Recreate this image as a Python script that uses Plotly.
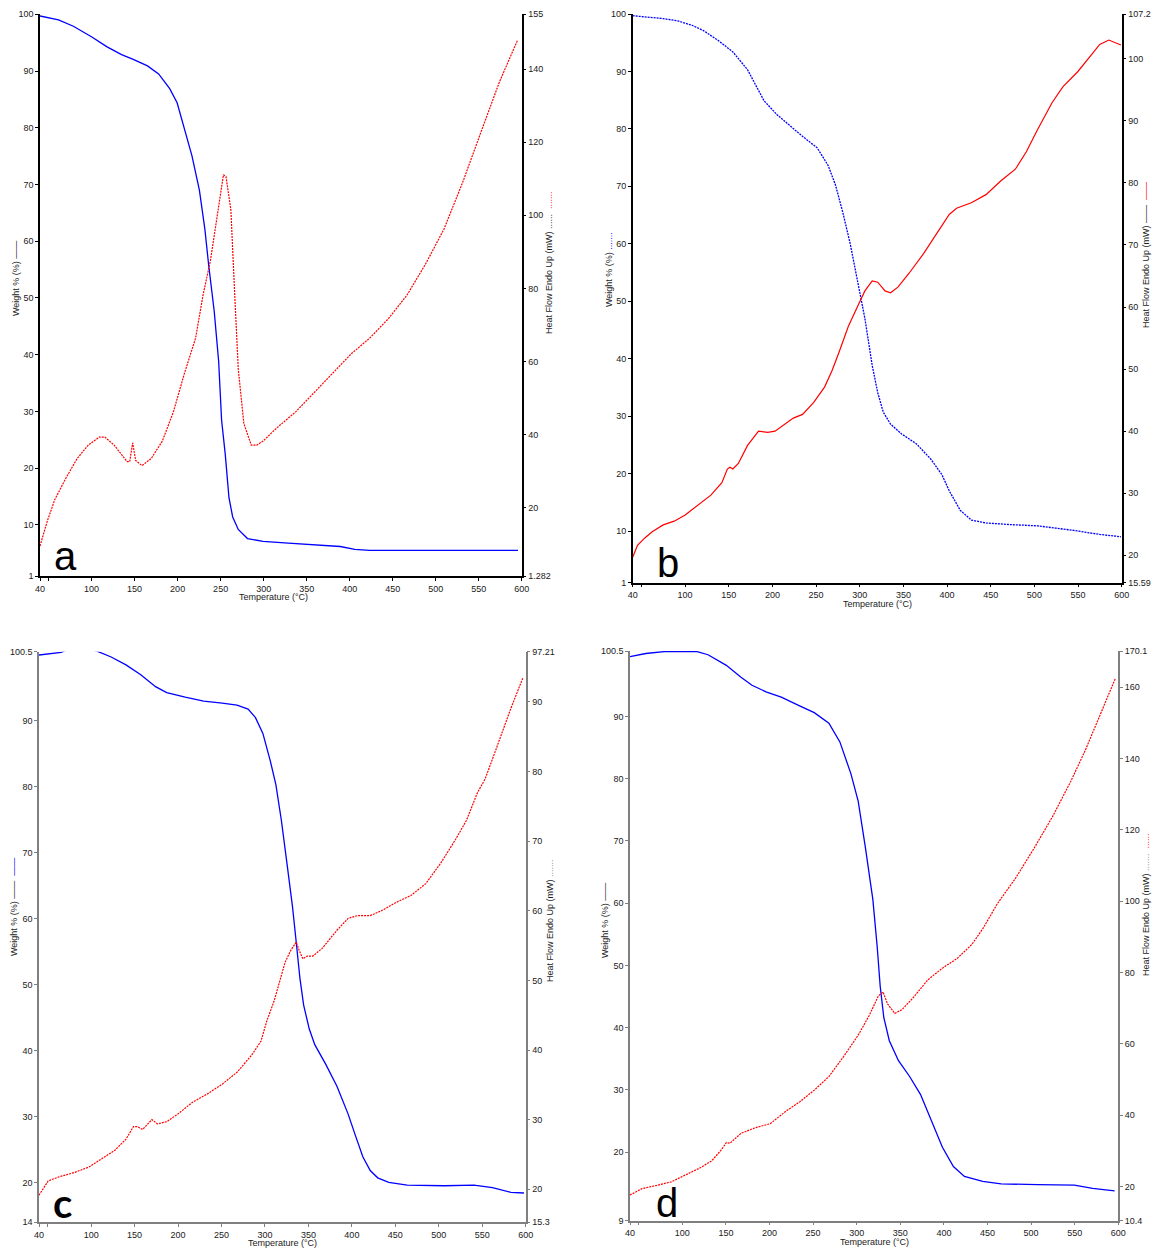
import plotly.graph_objects as go

W, H = 1153, 1248
OFF = 0  # body margin removed by post_script below

# ---------------- Panel a ----------------
a_wt_T = [40, 61.5, 78.8, 100.3, 117.5, 134.8, 147.7, 165, 177.9, 190.8, 199.4, 208, 216.6, 225.3,
          231.7, 236, 242.5, 247.7, 251.1, 255.4, 259.7, 264, 270.5, 281.2, 299.3, 328.6, 358.8,
          389, 406, 423.4, 595.7]
a_wt = [99.7, 99.0, 97.9, 96.0, 94.3, 92.9, 92.1, 90.9, 89.5, 86.9, 84.4, 79.9, 75.1, 69.0,
        62.1, 55.9, 47.7, 38.8, 28.5, 22.4, 14.8, 11.4, 9.2, 7.6, 7.1, 6.8, 6.5,
        6.2, 5.7, 5.5, 5.5]
a_hf_T = [40, 48.6, 57.2, 70.2, 83.1, 96, 108.9, 115.4, 126.2, 141.2, 144.3, 147.7, 151.2, 158.5,
          169.2, 182.2, 195.1, 208, 220.9, 229.5, 238.2, 246.8, 253.3, 256.3, 261.9, 266.2,
          270.5, 277, 285.6, 292, 299.3, 315.7, 337.2, 358.8, 380.3, 401.9, 423.4, 445, 466.5,
          488.1, 509.6, 531.2, 552.7, 574.3, 595]
a_hf = [9.5, 16.4, 22.2, 28.1, 33.4, 37.1, 39.3, 39.3, 37.1, 32.6, 32.6, 37.7, 32.9, 31.5,
        33.4, 38.2, 46.2, 56.8, 66.4, 78.1, 87.7, 101.5, 111.1, 110.5, 101.5, 79.2,
        57.9, 43.0, 37.1, 37.1, 38.2, 41.9, 46.2, 51.5, 56.8, 62.1, 66.4, 71.7, 78.1,
        86.6, 96.2, 108.9, 122.8, 136.6, 147.8]

# ---------------- Panel b ----------------
b_wt_T = [40, 53.9, 74.9, 91.7, 108.5, 121.1, 137.9, 154.7, 171.5, 179.9, 190.4, 205.1, 217.7,
          234.5, 251.3, 263.9, 272.3, 280.7, 289.1, 297.5, 305.9, 314.3, 320.6, 326.9, 335.3,
          347.9, 364.7, 381.5, 394.1, 402.5, 415.1, 427.8, 444.6, 474, 503.4, 524.4, 545.4,
          574.8, 599.1]
b_wt = [99.7, 99.5, 99.2, 98.8, 98.0, 97.1, 95.4, 93.4, 90.3, 87.9, 84.9, 82.5, 80.8,
        78.7, 76.7, 73.6, 70.2, 65.4, 60.0, 53.2, 47.0, 38.8, 34.1, 30.7, 28.6,
        26.9, 25.2, 22.5, 19.8, 17.0, 13.6, 11.9, 11.4, 11.1, 10.9, 10.5, 10.1,
        9.4, 9.0]
b_hf_T = [40, 45.5, 53.9, 62.3, 74.9, 87.5, 100.1, 112.7, 129.5, 142.1, 148.4, 151.3, 154.7,
          161, 171.5, 184.1, 194.6, 203, 213.5, 224, 234.5, 247.1, 259.7, 268.1, 276.5, 287,
          297.5, 305.9, 314.3, 320.6, 329, 335.3, 343.7, 356.3, 373.1, 389.9, 402.5, 410.9,
          427.8, 444.6, 461.4, 478.2, 490.8, 503.4, 520.2, 532.8, 549.6, 566.4, 574.8, 585.3,
          593.7, 599.1]
b_hf = [19.7, 21.6, 22.8, 23.8, 24.9, 25.5, 26.5, 27.9, 29.7, 31.7, 33.9, 34.2, 33.9,
        34.8, 37.7, 40.0, 39.8, 40.0, 41.1, 42.1, 42.7, 44.6, 47.1, 49.7, 52.8, 56.9,
        60.1, 62.6, 64.2, 64.0, 62.6, 62.3, 63.2, 65.4, 68.6, 72.1, 74.9, 75.9,
        76.8, 78.1, 80.3, 82.2, 85.0, 88.5, 92.9, 95.5, 97.9, 100.8, 102.3, 103.0,
        102.5, 102.2]

# ---------------- Panel c ----------------
c_wt_T = [40, 50.6, 65.5, 70, 80, 90, 100, 108.1, 123, 140.1, 157.1, 174.1, 186.9, 208.2,
          229.5, 250.8, 267.8, 280.6, 289.1, 297.6, 306.2, 312.6, 318.9, 325.3, 331.7, 336,
          340.2, 344.5, 350.9, 357.3, 370, 382.8, 395.6, 404.1, 412.6, 421.1, 429.7, 442.4,
          463.7, 506.3, 540.4, 561.7, 583, 598]
c_wt = [100.0, 100.2, 100.4, 100.65, 100.9, 100.95, 100.85, 100.5, 99.7, 98.5, 97.0, 95.2,
        94.3, 93.6, 93.0, 92.7, 92.4, 91.8, 90.5, 88.1, 83.9, 80.3, 74.9, 68.4, 61.8, 56.4,
        51.0, 46.9, 43.3, 40.9, 37.9, 34.6, 30.4, 27.1, 23.9, 21.8, 20.7, 20.0,
        19.6, 19.5, 19.6, 19.2, 18.5, 18.4]
c_hf_T = [40, 50.6, 63.4, 80.5, 97.5, 114.5, 127.3, 140.1, 148.6, 152.9, 159.2, 169.9, 176.3,
          186.9, 199.7, 216.7, 233.8, 250.8, 267.8, 284.9, 295.5, 301.9, 310.4, 316.8, 323.2,
          329.6, 336, 339.4, 343.6, 348.7, 355.1, 365.8, 382.8, 395.6, 406.2, 421.1, 433.9,
          450.9, 468, 485, 502, 519.1, 531.9, 544.6, 553.2, 565.9, 583, 596.6]
c_hf = [19.15, 21.2, 21.8, 22.4, 23.2, 24.6, 25.6, 27.2, 29.0, 29.0, 28.6, 30.0, 29.4,
        29.7, 30.8, 32.5, 33.7, 35.1, 36.8, 39.3, 41.3, 44.1, 47.0, 49.8, 52.6,
        54.3, 55.5, 54.3, 53.1, 53.5, 53.5, 54.6, 57.2, 58.9, 59.3, 59.3, 60.0,
        61.2, 62.2, 63.9, 66.8, 70.2, 73.0, 77.0, 78.9, 83.2, 89.1, 93.4]

# ---------------- Panel d ----------------
d_wt_T = [40, 58.1, 79.1, 95.9, 116.9, 129.5, 150.5, 167.3, 179.9, 196.7, 213.5, 234.5, 251.3,
          268.1, 280.7, 293.3, 301.7, 310.1, 318.5, 323.5, 326.9, 331.1, 337.4, 347.9, 360.5,
          373.1, 385.7, 398.3, 410.9, 423.5, 444.5, 465.6, 507.6, 549.6, 570.6, 595.8]
d_wt = [99.6, 100.1, 100.4, 100.45, 100.4, 99.9, 98.2, 96.3, 95.0, 93.9, 93.1, 91.7, 90.6,
        88.9, 85.9, 80.8, 76.4, 68.8, 60.6, 53.0, 46.7, 41.6, 37.9, 34.7, 32.2,
        29.3, 25.2, 20.8, 17.7, 16.1, 15.3, 14.9, 14.8, 14.7, 14.2, 13.8]
d_hf_T = [40, 53.9, 70.7, 87.5, 104.3, 121.1, 133.7, 144.2, 150.5, 154.7, 167.3, 184.1, 200.9,
          217.7, 234.5, 251.3, 268.1, 284.9, 301.7, 314.3, 324.8, 330.3, 335.3, 343.7, 352.1,
          364.7, 381.5, 398.3, 415.1, 431.9, 444.5, 461.4, 482.4, 503.4, 524.4, 545.4, 562.2,
          579, 596.6]
d_hf = [17.6, 19.4, 20.3, 21.3, 23.3, 25.3, 27.2, 30.1, 32.3, 32.1, 34.9, 36.5, 37.6,
        40.9, 43.7, 47.0, 50.8, 56.4, 62.4, 67.9, 73.4, 74.5, 71.2, 68.5, 69.6,
        72.9, 77.9, 81.2, 83.9, 87.8, 92.2, 99.3, 106.5, 114.8, 123.6, 133.5, 142.3,
        152.2, 162.4]

# ---------------- Axis ticks ----------------
x_ticks = [40, 50, 100, 150, 200, 250, 300, 350, 400, 450, 500, 550, 600]
x_labels = ["40", "", "100", "150", "200", "250", "300", "350", "400", "450", "500", "550", "600"]

a_left_ticks = [1, 10, 20, 30, 40, 50, 60, 70, 80, 90, 100]
a_right_ticks = [1.282, 20, 40, 60, 80, 100, 120, 140, 155]
b_left_ticks = [1, 10, 20, 30, 40, 50, 60, 70, 80, 90, 100]
b_right_ticks = [15.59, 20, 30, 40, 50, 60, 70, 80, 90, 100, 107.2]
c_left_ticks = [14, 20, 30, 40, 50, 60, 70, 80, 90, 100.5]
c_right_ticks = [15.3, 20, 30, 40, 50, 60, 70, 80, 90, 97.21]
d_left_ticks = [9, 20, 30, 40, 50, 60, 70, 80, 90, 100.5]
d_right_ticks = [10.4, 20, 40, 60, 80, 100, 120, 140, 160, 170.1]

FONT = "Liberation Sans, Arial, sans-serif"
BLUE = "#0000ff"
RED = "#ff0000"

panels = [
    dict(box=(40, 521.7, 14.3, 576), axc="#000000",
         wT=a_wt_T, w=a_wt, wdash="solid", hT=a_hf_T, h=a_hf, hdash="2px,1px",
         lt=a_left_ticks, rt=a_right_ticks),
    dict(box=(632.7, 1121.7, 14, 582.7), axc="#000000",
         wT=b_wt_T, w=b_wt, wdash="2px,1px", hT=b_hf_T, h=b_hf, hdash="solid",
         lt=b_left_ticks, rt=b_right_ticks),
    dict(box=(39, 525.7, 651.7, 1222), axc="#7f7f7f",
         wT=c_wt_T, w=c_wt, wdash="solid", hT=c_hf_T, h=c_hf, hdash="2px,1px",
         lt=c_left_ticks, rt=c_right_ticks),
    dict(box=(630, 1118.3, 651, 1220.7), axc="#7f7f7f",
         wT=d_wt_T, w=d_wt, wdash="solid", hT=d_hf_T, h=d_hf, hdash="2px,1px",
         lt=d_left_ticks, rt=d_right_ticks),
]

def fmt(v):
    return "%g" % v

def fx(px):
    return (px - OFF) / W

def fy(py):
    return 1 - (py - OFF) / H

fig = go.Figure()
layout = dict(width=W, height=H, margin=dict(l=0, r=0, t=0, b=0, autoexpand=False),
              template="none",
              paper_bgcolor="white", plot_bgcolor="white", showlegend=False,
              font=dict(family=FONT, size=9, color="#1a1a1a"))

for i, p in enumerate(panels, start=1):
    L, R, T, B = p["box"]
    xs = "" if i == 1 else str(i)
    yl = "" if i == 1 else str(i)
    yr = str(i + 4)
    fig.add_trace(go.Scatter(x=p["wT"], y=p["w"], mode="lines",
                             line=dict(color=BLUE, width=1.3, dash=p["wdash"]),
                             xaxis="x" + xs, yaxis="y" + yl))
    fig.add_trace(go.Scatter(x=p["hT"], y=p["h"], mode="lines",
                             line=dict(color=RED, width=1.2, dash=p["hdash"]),
                             xaxis="x" + xs, yaxis="y" + yr))
    axcommon = dict(showline=True, linecolor=p["axc"], linewidth=1.5, ticks="outside",
                    ticklen=3, tickcolor=p["axc"], showgrid=False, zeroline=False,
                    automargin=False,
                    tickfont=dict(family=FONT, size=9, color="#1a1a1a"))
    layout["xaxis" + xs] = dict(domain=[fx(L), fx(R)], anchor="y" + yl, range=[40, 600],
                                tickmode="array", tickvals=x_ticks, ticktext=x_labels,
                                **axcommon)
    layout["yaxis" + yl] = dict(domain=[fy(B), fy(T)], anchor="x" + xs,
                                range=[p["lt"][0], p["lt"][-1]], tickmode="array",
                                tickvals=p["lt"], ticktext=[fmt(v) for v in p["lt"]],
                                **axcommon)
    layout["yaxis" + yr] = dict(overlaying="y" + yl, anchor="x" + xs, side="right",
                                range=[p["rt"][0], p["rt"][-1]], tickmode="array",
                                tickvals=p["rt"], ticktext=[fmt(v) for v in p["rt"]],
                                **axcommon)

fig.update_layout(**layout)

def ann(text, px, py, angle=0, size=9, bold=False, family=FONT, color="#1a1a1a"):
    fig.add_annotation(text=("<b>%s</b>" % text) if bold else text,
                       x=fx(px), y=fy(py), xref="paper", yref="paper",
                       showarrow=False, textangle=angle, xanchor="center", yanchor="middle",
                       font=dict(family=family, size=size, color=color))

# x titles
ann("Temperature (°C)", 273, 597)
ann("Temperature (°C)", 877, 604)
ann("Temperature (°C)", 282, 1243)
ann("Temperature (°C)", 874, 1242)

# y titles
ann("Weight % (%) ——", 16, 279, angle=-90)
ann("Heat Flow Endo Up (mW) ......<span style='color:#ff0000'>  .......</span>", 549, 263, angle=-90)
ann("Weight % (%) <span style='color:#0000ff'>.......</span>", 609, 270, angle=-90)
ann("Heat Flow Endo Up (mW) ——<span style='color:#ff0000'>  ——</span>", 1146, 255, angle=-90)
ann("Weight % (%) ——<span style='color:#0000ff'>  ——</span>", 14, 907, angle=-90)
ann("Heat Flow Endo Up (mW) <span style='color:#888888'>.......</span>", 550, 921, angle=-90)
ann("Weight % (%) ——", 605, 921, angle=-90)
ann("Heat Flow Endo Up (mW) <span style='color:#888888'>.......</span><span style='color:#ff0000'>  ......</span>", 1146, 905, angle=-90)

# panel letters
ann("a", 65, 556, size=40, color="#000000")
ann("b", 668, 563, size=40, color="#000000")
ann("c", 62, 1203, size=40, bold=True, family="Lato, Liberation Sans, sans-serif", color="#000000")
ann("d", 667, 1203, size=40, color="#000000")

fig.write_html("out.html", config={"displayModeBar": False},
               post_script="document.body.style.margin='0';document.body.style.overflow='hidden';")
